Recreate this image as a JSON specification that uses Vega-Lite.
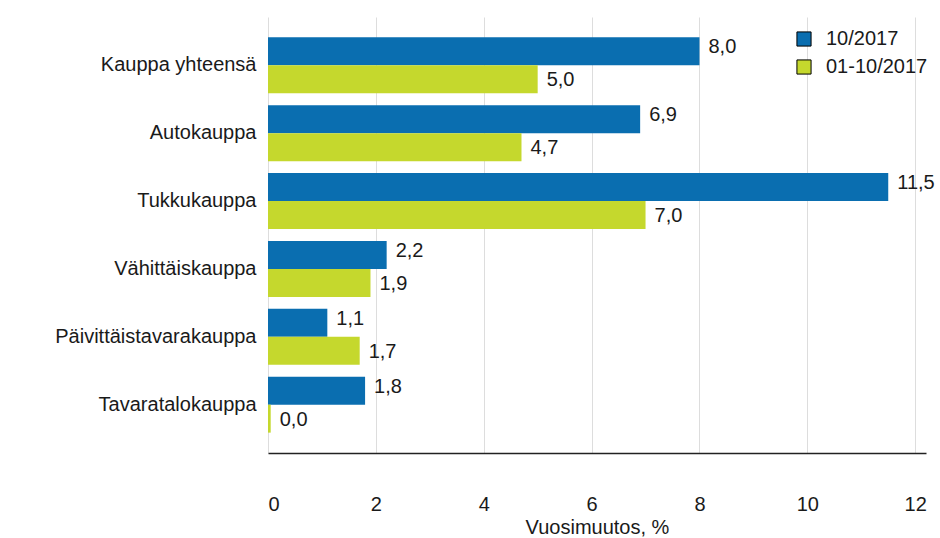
{
  "$schema": "https://vega.github.io/schema/vega-lite/v6.json",
  "width": 658,
  "height": 436,
  "autosize": {"type": "none"},
  "padding": {"left": 268, "top": 17, "right": 14, "bottom": 85},
  "background": "white",
  "config": {
    "font": "Liberation Sans",
    "view": {"stroke": null},
    "axis": {"labelFont": "Liberation Sans", "titleFont": "Liberation Sans"},
    "legend": {"labelFont": "Liberation Sans"}
  },
  "data": {
    "values": [
      {"kategoria": "Kauppa yhteensä", "jakso": "10/2017", "arvo": 8.0, "teksti": "8,0"},
      {"kategoria": "Kauppa yhteensä", "jakso": "01-10/2017", "arvo": 5.0, "teksti": "5,0"},
      {"kategoria": "Autokauppa", "jakso": "10/2017", "arvo": 6.9, "teksti": "6,9"},
      {"kategoria": "Autokauppa", "jakso": "01-10/2017", "arvo": 4.7, "teksti": "4,7"},
      {"kategoria": "Tukkukauppa", "jakso": "10/2017", "arvo": 11.5, "teksti": "11,5"},
      {"kategoria": "Tukkukauppa", "jakso": "01-10/2017", "arvo": 7.0, "teksti": "7,0"},
      {"kategoria": "Vähittäiskauppa", "jakso": "10/2017", "arvo": 2.2, "teksti": "2,2"},
      {"kategoria": "Vähittäiskauppa", "jakso": "01-10/2017", "arvo": 1.9, "teksti": "1,9"},
      {"kategoria": "Päivittäistavarakauppa", "jakso": "10/2017", "arvo": 1.1, "teksti": "1,1"},
      {"kategoria": "Päivittäistavarakauppa", "jakso": "01-10/2017", "arvo": 1.7, "teksti": "1,7"},
      {"kategoria": "Tavaratalokauppa", "jakso": "10/2017", "arvo": 1.8, "teksti": "1,8"},
      {"kategoria": "Tavaratalokauppa", "jakso": "01-10/2017", "arvo": 0.05, "teksti": "0,0"}
    ]
  },
  "encoding": {
    "y": {
      "field": "kategoria",
      "type": "nominal",
      "sort": null,
      "scale": {"paddingInner": 0.176, "paddingOuter": 0.3},
      "axis": {
        "title": null,
        "domain": false,
        "ticks": false,
        "labelFontSize": 20,
        "labelColor": "#1a1a1a",
        "labelPadding": 12,
        "labelLimit": 300
      }
    },
    "yOffset": {
      "field": "jakso",
      "type": "nominal",
      "sort": ["10/2017", "01-10/2017"]
    },
    "x": {
      "field": "arvo",
      "type": "quantitative",
      "scale": {"domain": [0, 12.2], "nice": false},
      "axis": {
        "title": "Vuosimuutos, %",
        "titleFontSize": 20,
        "titleFontWeight": "normal",
        "titleColor": "#1a1a1a",
        "titlePadding": 3,
        "values": [0, 2, 4, 6, 8, 10, 12],
        "labelFontSize": 20,
        "labelColor": "#1a1a1a",
        "labelPadding": 41,
        "ticks": false,
        "domainColor": "#222",
        "domainWidth": 1.5,
        "gridColor": "#dddddd",
        "grid": true
      }
    }
  },
  "layer": [
    {
      "mark": {"type": "bar"},
      "encoding": {
        "color": {
          "field": "jakso",
          "type": "nominal",
          "sort": ["10/2017", "01-10/2017"],
          "scale": {"domain": ["10/2017", "01-10/2017"], "range": ["#0a6eb0", "#c5d82d"]},
          "legend": {
            "title": null,
            "orient": "none",
            "legendX": 526,
            "legendY": 12,
            "symbolType": "square",
            "symbolSize": 200,
            "symbolStrokeColor": "#000",
            "symbolStrokeWidth": 1,
            "labelFontSize": 20,
            "labelColor": "#1a1a1a",
            "labelOffset": 12,
            "rowPadding": 8
          }
        }
      }
    },
    {
      "transform": [{"filter": "datum.jakso === '10/2017'"}],
      "mark": {"type": "text", "align": "left", "baseline": "middle", "dx": 9, "dy": -4, "fontSize": 20, "color": "#1a1a1a"},
      "encoding": {"text": {"field": "teksti", "type": "nominal"}}
    },
    {
      "transform": [{"filter": "datum.jakso === '01-10/2017'"}],
      "mark": {"type": "text", "align": "left", "baseline": "middle", "dx": 9, "dy": 1, "fontSize": 20, "color": "#1a1a1a"},
      "encoding": {"text": {"field": "teksti", "type": "nominal"}}
    }
  ]
}
